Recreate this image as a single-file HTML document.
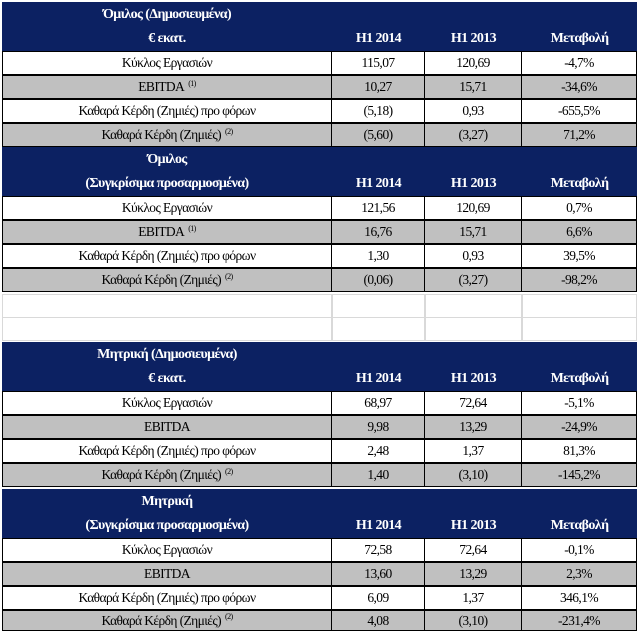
<!DOCTYPE html>
<html><head><meta charset="utf-8">
<style>
body{margin:0;width:640px;height:628px;background:#fff;overflow:hidden;position:relative;font-family:"Liberation Serif",serif;}
.c{position:absolute;box-sizing:border-box;display:flex;align-items:center;justify-content:center;font-size:13.5px;letter-spacing:-0.6px;color:#000;white-space:nowrap;}
.h{background:#0c2162;color:#fff;font-weight:bold;font-size:14px;}
.g{background:#c0c0c0;}
.b{border:1px solid #000;}
.e{border:1px solid #d9d9d9;}
sup{font-size:8px;margin-left:4px;position:relative;top:-4px;vertical-align:top;}
</style></head><body>
<script>
const colX=[2,332,425,522,637];
const sections=[
 {title:"Όμιλος  (Δημοσιευμένα)",sub:"€ εκατ.",y:2,
  rows:[["Κύκλος Εργασιών","","115,07","120,69","-4,7%"],["EBITDA","(1)","10,27","15,71","-34,6%"],["Καθαρά Κέρδη (Ζημιές)  προ φόρων","","(5,18)","0,93","-655,5%"],["Καθαρά Κέρδη (Ζημιές)","(2)","(5,60)","(3,27)","71,2%"]]},
 {title:"Όμιλος",sub:"(Συγκρίσιμα προσαρμοσμένα)",y:147,
  rows:[["Κύκλος Εργασιών","","121,56","120,69","0,7%"],["EBITDA","(1)","16,76","15,71","6,6%"],["Καθαρά Κέρδη (Ζημιές)  προ φόρων","","1,30","0,93","39,5%"],["Καθαρά Κέρδη (Ζημιές)","(2)","(0,06)","(3,27)","-98,2%"]]},
 {title:"Μητρική (Δημοσιευμένα)",sub:"€ εκατ.",y:342,
  rows:[["Κύκλος Εργασιών","","68,97","72,64","-5,1%"],["EBITDA","","9,98","13,29","-24,9%"],["Καθαρά Κέρδη (Ζημιές)  προ φόρων","","2,48","1,37","81,3%"],["Καθαρά Κέρδη (Ζημιές)","(2)","1,40","(3,10)","-145,2%"]]},
 {title:"Μητρική",sub:"(Συγκρίσιμα προσαρμοσμένα)",y:489,
  rows:[["Κύκλος Εργασιών","","72,58","72,64","-0,1%"],["EBITDA","","13,60","13,29","2,3%"],["Καθαρά Κέρδη (Ζημιές)  προ φόρων","","6,09","1,37","346,1%"],["Καθαρά Κέρδη (Ζημιές)","(2)","4,08","(3,10)","-231,4%"]]}
];
const headers=["H1 2014","H1 2013","Μεταβολή"];
function cell(x,y,w,h,cls,html){
 const d=document.createElement('div');
 d.className='c '+cls;
 d.style.left=x+'px';d.style.top=y+'px';d.style.width=w+'px';d.style.height=h+'px';
 d.innerHTML=html;
 document.body.appendChild(d);
 return d;
}
sections.forEach((s,si)=>{
 const hb=cell(colX[0],s.y,colX[4]-colX[0],49,'h','');
 
 
 const t=cell(colX[0],s.y,colX[1]-colX[0],25,'h',s.title);
 
 
 const sb=cell(colX[0],s.y+24,colX[1]-colX[0],25,'h',s.sub);
 
 
 headers.forEach((hd,i)=>{
  const c=cell(colX[i+1],s.y+24,colX[i+2]-colX[i+1],25,'h',hd);
  
  
 });
 s.rows.forEach((r,ri)=>{
  const y=s.y+49+ri*24;
  const h=(si==3&&ri==3)?21:24;
  const cls=(ri%2==1?'g ':'')+'b';
  const lab=cell(colX[0],y,colX[1]-colX[0],h,cls,r[0]+(r[1]?'<sup>'+r[1]+'</sup>':''));
  
  
  for(let k=0;k<3;k++){
   const v=cell(colX[k+1]-1,y,colX[k+2]-colX[k+1]+1,h,cls,r[k+2]);
   
   
  }
 });
});
for(let ri=0;ri<2;ri++){
 for(let k=0;k<4;k++){
  const e=cell(colX[k],294+ri*23,colX[k+1]-colX[k],24,'e','');
  
  
 }
}
</script>
</body></html>
